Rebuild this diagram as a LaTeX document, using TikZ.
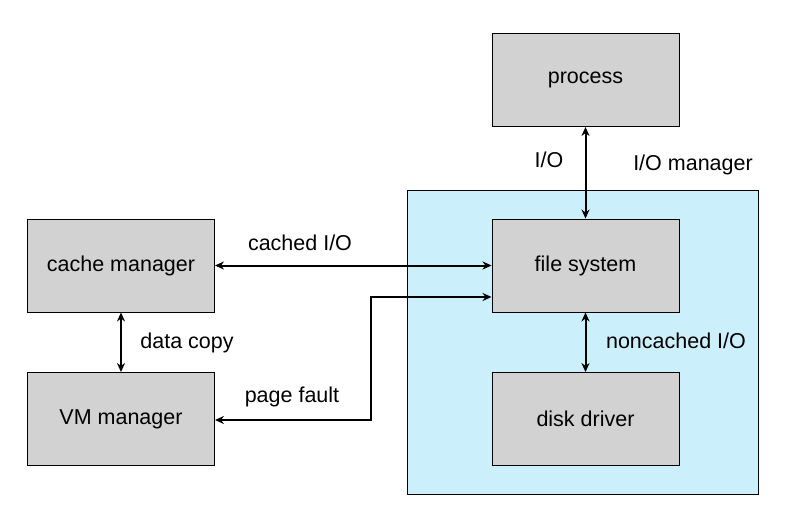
\documentclass[tikz,border=0pt]{standalone}
\usepackage{fontspec}
\setmainfont{Liberation Sans}
\usetikzlibrary{arrows.meta}
\begin{document}
\begin{tikzpicture}[x=1pt,y=-1pt,
  box/.style={draw=black,line width=0.9pt,fill=gray!35,minimum width=187pt,minimum height=93pt,font=\fontsize{21.5}{25}\selectfont},
  arr/.style={line width=2pt,{Stealth[length=9pt,width=8pt]}-{Stealth[length=9pt,width=8pt]}},
  lab/.style={font=\fontsize{21.5}{25}\selectfont}]
\useasboundingbox (0,0) rectangle (788,532);
\node[draw=black,line width=0.9pt,fill=cyan!20,minimum width=351pt,minimum height=304pt] (iom) at (582.5,342) {};
\node[box] (proc) at (585.5,80) {process};
\node[box] (fs) at (585.5,265.5) {file system};
\node[box] (dd) at (585.5,419) {disk driver};
\node[box] (cm) at (121,265.5) {cache manager};
\node[box] (vm) at (121,419) {VM manager};
\draw[arr] (proc) -- (fs);
\draw[arr] (fs) -- (dd);
\draw[arr] (cm) -- (fs);
\draw[arr] (cm) -- (vm);
\coordinate (fsp) at (fs.west |- 0,297);
\coordinate (vmp) at (vm.east |- 0,420);
\draw[arr] (fsp) -- (371,297) -- (371,420) -- (vmp);
\node[lab] (l1) at (549,160) {I/O};
\node[lab] (l2) at (693,165) {I/O manager};
\node[lab] (l3) at (300,243) {cached I/O};
\node[lab] (l4) at (187,343) {data copy};
\node[lab] (l5) at (292,397) {page fault};
\node[lab] (l6) at (676,341) {noncached I/O};
\end{tikzpicture}
\end{document}
